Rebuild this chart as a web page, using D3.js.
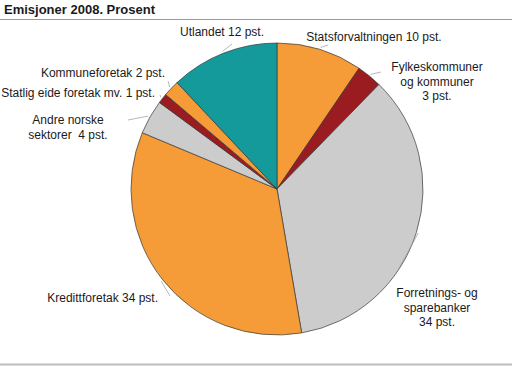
<html>
<head>
<script src="https://d3js.org/d3.v7.min.js"></script>
<style>
  body { margin: 0; background: #fff; }
  text { font-family: Arial, "Liberation Sans", sans-serif; white-space: pre; }
</style>
</head>
<body>
<script>
  // data, clockwise from 12 o'clock
  const categories = ["Statsforvaltningen", "Fylkeskommuner og kommuner", "Forretnings- og sparebanker",
    "Kredittforetak", "Andre norske sektorer", "Statlig eide foretak mv.", "Kommuneforetak", "Utlandet"];
  const values = [9.5, 2.8, 35.0, 34.0, 3.8, 1.1, 1.8, 12.0];
  const labelTexts = [
    ["Statsforvaltningen 10 pst."],
    ["Fylkeskommuner", "og kommuner", "3 pst."],
    ["Forretnings- og", "sparebanker", "34 pst."],
    ["Kredittforetak 34 pst."],
    ["Andre norske", "sektorer  4 pst."],
    ["Statlig eide foretak mv. 1 pst."],
    ["Kommuneforetak 2 pst."],
    ["Utlandet 12 pst."]
  ];
  const colors = ["#f59b38", "#9a1b20", "#cccccc", "#f59b38", "#cccccc", "#9a1b20", "#f59b38", "#149a9b"];

  const width = 512, height = 366;
  const cx = 277, cy = 189, r = 146;

  // label layout: x, y of first line center, anchor, leader end point
  const labelPos = [
    { x: 374, y: 37, anchor: "middle", lx: 328, ly: 45 },
    { x: 437, y: 67, anchor: "middle", lx: 381, ly: 72 },
    { x: 437, y: 293, anchor: "middle", lx: 398, ly: 270 },
    { x: 158, y: 298, anchor: "end", lx: 170, ly: 296 },
    { x: 68, y: 120, anchor: "middle", lx: 128, ly: 120 },
    { x: 155, y: 93, anchor: "end", lx: 160, ly: 95 },
    { x: 165, y: 73, anchor: "end", lx: 168, ly: 81 },
    { x: 222, y: 32, anchor: "middle", lx: 232, ly: 44 }
  ];

  const svg = d3.select("body").append("svg")
    .attr("width", width)
    .attr("height", height);

  // title
  svg.append("text")
    .attr("x", 4)
    .attr("y", 14)
    .attr("font-size", 13)
    .attr("font-weight", "bold")
    .attr("fill", "#1a1a1a")
    .text("Emisjoner 2008. Prosent");

  svg.append("line")
    .attr("x1", 0).attr("x2", width)
    .attr("y1", 19.5).attr("y2", 19.5)
    .attr("stroke", "#9a9a9a");

  svg.append("line")
    .attr("x1", 0).attr("x2", width)
    .attr("y1", 364.5).attr("y2", 364.5)
    .attr("stroke", "#bdbdbd")
    .attr("stroke-width", 2);

  const pie = d3.pie().sort(null).value(d => d);
  const arcs = pie(values);
  const arc = d3.arc().innerRadius(0).outerRadius(r);

  const g = svg.append("g").attr("transform", `translate(${cx},${cy})`);

  g.selectAll("path")
    .data(arcs)
    .join("path")
    .attr("d", arc)
    .attr("fill", (d, i) => colors[i])
    .attr("stroke", "#3a3a3a")
    .attr("stroke-width", 0.7);

  // leader lines from pie edge toward label
  arcs.forEach((d, i) => {
    const a = (d.startAngle + d.endAngle) / 2;
    const x1 = cx + Math.sin(a) * (r + 2);
    const y1 = cy - Math.cos(a) * (r + 2);
    svg.append("line")
      .attr("x1", x1).attr("y1", y1)
      .attr("x2", labelPos[i].lx).attr("y2", labelPos[i].ly)
      .attr("stroke", "#999")
      .attr("stroke-width", 0.7);
  });

  // labels
  labelTexts.forEach((lines, i) => {
    const p = labelPos[i];
    const t = svg.append("text")
      .attr("font-size", 12)
      .attr("fill", "#1a1a1a")
      .attr("text-anchor", p.anchor);
    lines.forEach((s, j) => {
      t.append("tspan")
        .attr("x", p.x)
        .attr("y", p.y + j * 14.7 + 4)
        .text(s);
    });
  });
</script>
</body>
</html>
